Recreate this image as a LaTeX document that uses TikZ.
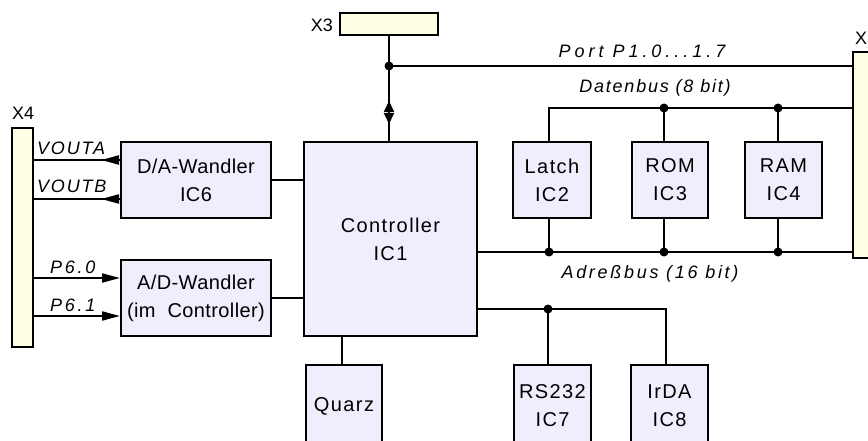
\documentclass[tikz,border=0pt]{standalone}
\usepackage{fontspec}
\setmainfont{Liberation Sans}
\newfontfamily\bxfont[LetterSpace=7]{Liberation Sans}
\newfontfamily\wdfont[LetterSpace=2]{Liberation Sans}
\newfontfamily\lbfont[LetterSpace=10]{Liberation Sans}
\usetikzlibrary{arrows.meta,calc}
\definecolor{icfill}{RGB}{238,238,252}
\definecolor{confill}{RGB}{255,255,228}
\tikzset{
  ic/.style={draw=black, line width=2pt, fill=icfill, inner sep=0pt, align=center,
             font=\bxfont\fontsize{20}{28}\selectfont},
  wd/.style={font=\wdfont\fontsize{20}{28}\selectfont},
  con/.style={draw=black, line width=2pt, fill=confill, inner sep=0pt},
  wire/.style={line width=2pt},
  lab/.style={font=\lbfont\itshape\fontsize{18}{22}\selectfont, inner sep=0pt},
  clab/.style={font=\fontsize{18}{22}\selectfont, inner sep=0pt},
  jdot/.style={circle, fill=black, inner sep=0pt, minimum size=9pt},
  tipl/.style={-{Triangle[length=18pt,width=9pt]}},
  bitip/.style={{Triangle[length=11pt,width=10pt]}-{Triangle[length=11pt,width=10pt]}}
}
\begin{document}
\begin{tikzpicture}[x=1pt,y=-1pt]
\useasboundingbox (0,0) rectangle (868,441);
\clip (0,0) rectangle (868,441);

% connectors (bars)
\node[con, minimum width=21pt, minimum height=219pt] (x4) at (22.5,237.5) {};
\node[con, minimum width=98pt, minimum height=22pt] (x3) at (389,24) {};
\node[con, minimum width=37pt, minimum height=206pt] (x5) at (871.5,155) {};
\node[clab, anchor=base west] (x4l) at (12,120) {X4};
\node[clab, anchor=base east] (x3l) at (333,32) {X3};
\node[clab, anchor=base west] (x5l) at (855,45) {X5};

% ICs
\node[ic, minimum width=173pt, minimum height=194pt] (ctrl) at (390.5,239) {Controller\\IC1};
\node[ic, wd, minimum width=150pt, minimum height=76pt] (da) at (196,180) {D/A-Wandler\\IC6};
\node[ic, wd, minimum width=150pt, minimum height=76pt] (ad) at (196,298) {A/D-Wandler\\(im\ \ Controller)};
\node[ic, minimum width=78pt, minimum height=76pt] (latch) at (552,180) {Latch\\IC2};
\node[ic, minimum width=76pt, minimum height=76pt] (rom) at (670,180) {ROM\\IC3};
\node[ic, minimum width=77pt, minimum height=76pt] (ram) at (783.5,180) {RAM\\IC4};
\node[ic, minimum width=76pt, minimum height=82pt] (quarz) at (344,406) {Quarz};
\node[ic, minimum width=77pt, minimum height=82pt] (rs) at (552.5,406) {RS232\\IC7};
\node[ic, minimum width=77pt, minimum height=82pt] (irda) at (669.5,406) {IrDA\\IC8};

% junction dots
\node[jdot] (j1) at (389,66) {};
\node[jdot] (j3) at (664,108) {};
\node[jdot] (j4) at (778,108) {};
\node[jdot] (j5) at (549,252) {};
\node[jdot] (j6) at (664,252) {};
\node[jdot] (j7) at (778,252) {};
\node[jdot] (j8) at (548,309) {};

% helper coordinates
\coordinate (d2) at (549,108);
\coordinate (s3) at (666,309);
\coordinate (q) at (342,350);
\coordinate (bu) at (389,101);
\coordinate (bd) at (389,124);
\coordinate (va) at (0,160);
\coordinate (vb) at (0,199);
\coordinate (p0) at (0,278);
\coordinate (p1) at (0,316);

% X3 / port
\draw[wire] (x3.south) -- (x3.south |- ctrl.north);
\draw[wire] (j1.center) -- (j1.center -| x5.west);
\draw[wire, bitip] (bu) -- (bd);

% data bus
\draw[wire] (x5.west |- d2) -- (d2) -- (d2 |- latch.north);
\draw[wire] (j3.center) -- (j3.center |- rom.north);
\draw[wire] (j4.center) -- (j4.center |- ram.north);

% address bus
\draw[wire] (j5.center -| ctrl.east) -- (j5.center -| x5.west);
\draw[wire] (j5.center) -- (j5.center |- latch.south);
\draw[wire] (j6.center) -- (j6.center |- rom.south);
\draw[wire] (j7.center) -- (j7.center |- ram.south);

% serial
\draw[wire] (j8.center -| ctrl.east) -- (s3) -- (s3 |- irda.north);
\draw[wire] (j8.center) -- (j8.center |- rs.north);

% quarz
\draw[wire] (q |- ctrl.south) -- (q |- quarz.north);

% converters to controller
\draw[wire] (da.east) -- (da.east -| ctrl.west);
\draw[wire] (ad.east) -- (ad.east -| ctrl.west);

% left signals
\draw[wire] (va -| x4.east) -- (va -| da.west);
\draw[wire, tipl] (va -| da.west) -- ++(-19,0);
\draw[wire] (vb -| x4.east) -- (vb -| da.west);
\draw[wire, tipl] (vb -| da.west) -- ++(-19,0);
\draw[wire, tipl] (p0 -| x4.east) -- (p0 -| ad.west);
\draw[wire, tipl] (p1 -| x4.east) -- (p1 -| ad.west);

% labels
\node[lab, anchor=base west] (lva) at (37,155) {VOUTA};
\node[lab, anchor=base west] (lvb) at (37,193) {VOUTB};
\node[lab, anchor=base west] (lp0) at (50,273) {\addfontfeature{LetterSpace=15}P6.0};
\node[lab, anchor=base west] (lp1) at (50,311) {\addfontfeature{LetterSpace=15}P6.1};
\node[lab, anchor=base] (lport) at (642,58) {\addfontfeature{LetterSpace=22}Port P1.0...1.7};
\node[lab, anchor=base] (ldb) at (655,93) {Datenbus (8 bit)};
\node[lab, anchor=base] (lab16) at (650,278) {\addfontfeature{LetterSpace=15}Adreßbus (16 bit)};
\end{tikzpicture}
\end{document}
